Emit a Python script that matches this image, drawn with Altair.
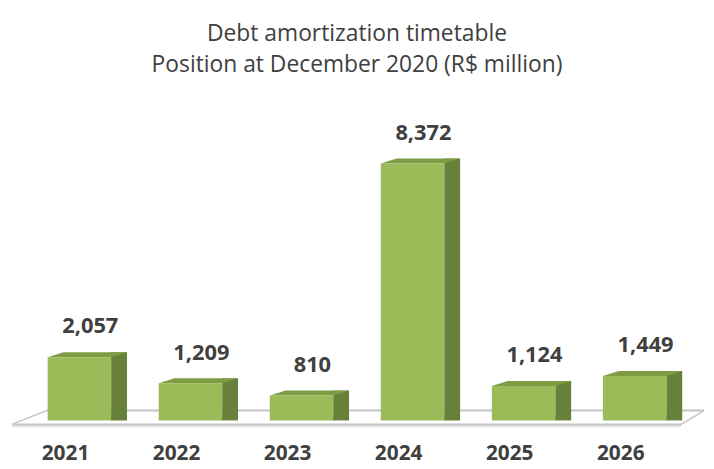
import altair as alt
import pandas as pd

years = ["2021", "2022", "2023", "2024", "2025", "2026"]
values = [2057, 1209, 810, 8372, 1124, 1449]
title_lines = ["Debt amortization timetable", "Position at December 2020 (R$ million)"]

FRONT = "#9BBB59"
SIDE = "#67813A"
TOP = "#7E9C44"
TEXT = "#404040"
FLOOR = "#C4C4C4"

df = pd.DataFrame({"year": years, "value": values, "base": [0] * len(years)})
floor_df = pd.DataFrame({"base": [0]})

x = alt.X("year:N", axis=None, sort=years,
          scale=alt.Scale(paddingInner=0.4286, paddingOuter=0.2143))
yscale = alt.Scale(domain=[0, 10400], nice=False)
y = alt.Y("value:Q", axis=None, scale=yscale)
yb = alt.Y("base:Q", axis=None, scale=yscale)

base = alt.Chart(df)
fbase = alt.Chart(floor_df)

# floor (perspective plane)
floor_back = fbase.mark_rule(color=FLOOR, strokeWidth=2, yOffset=-10).encode(
    x=alt.value(23), x2=alt.value(686), y=yb)
floor_front = fbase.mark_rule(color=FLOOR, strokeWidth=2, yOffset=4).encode(
    x=alt.value(-12), x2=alt.value(663), y=yb)
floor_front2 = fbase.mark_rule(color="#E4E4E4", strokeWidth=2, yOffset=6).encode(
    x=alt.value(-12), x2=alt.value(663), y=yb)
floor_left = fbase.mark_rule(color=FLOOR, strokeWidth=1.5, yOffset=4, y2Offset=-10).encode(
    x=alt.value(-12), x2=alt.value(23), y=yb, y2="base:Q")
floor_right = fbase.mark_rule(color=FLOOR, strokeWidth=1.5, yOffset=4, y2Offset=-10).encode(
    x=alt.value(663), x2=alt.value(686), y=yb, y2="base:Q")

side = base.mark_bar(width=16, xOffset=40, yOffset=-5, color=SIDE).encode(
    x=x, y=y, y2="base:Q")
side_bottom = base.mark_point(shape="M 32 0 L 48 -5 L 32 -5 Z", size=4, filled=True,
                              opacity=1, color=SIDE, strokeWidth=0).encode(x=x, y=yb)
top = base.mark_point(shape="M -32 0 L 32 0 L 48 -5 L -16 -5 Z", size=4, filled=True,
                      opacity=1, color=TOP, strokeWidth=0).encode(x=x, y=y)
front = base.mark_bar(color=FRONT).encode(x=x, y=y)

value_labels = base.mark_text(font="Open Sans", fontSize=22, fontWeight="bold", color=TEXT,
                              dx=11, dy=-24, baseline="alphabetic").encode(
    x=x, y=y, text=alt.Text("value:Q", format=","))
year_labels = base.mark_text(font="Open Sans", fontSize=21, fontWeight="bold", color=TEXT,
                             dx=-14, dy=40, baseline="alphabetic").encode(
    x=x, y=yb, text="year:N")

chart = alt.layer(
    floor_back, floor_left, floor_right, floor_front2, floor_front,
    side, side_bottom, top, front, value_labels, year_labels
).properties(
    width=672, height=322,
    autosize=alt.AutoSizeParams(type="none"),
    padding={"left": 16, "top": 92, "right": 16, "bottom": 46},
    title=alt.Title(title_lines, font="Open Sans", fontSize=23, fontWeight="normal",
                    color=TEXT, lineHeight=32, anchor="middle", frame="group", offset=24),
).configure_view(stroke=None)

chart.save("out.html", embed_options={"renderer": "svg", "actions": False})
